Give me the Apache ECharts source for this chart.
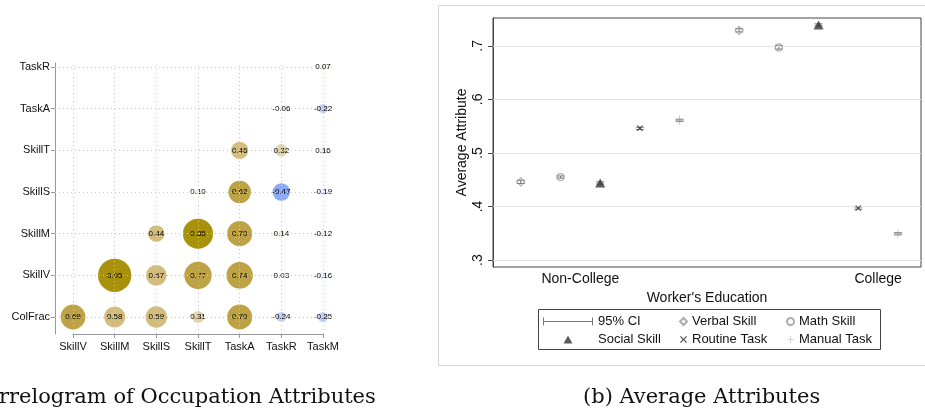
<!DOCTYPE html>
<html><head><meta charset="utf-8">
<script src="https://cdn.jsdelivr.net/npm/echarts@6/dist/echarts.min.js"></script>
<style>html,body{margin:0;padding:0;background:#fff}#c{width:925px;height:415px}</style>
</head><body><div id="c"></div>
<script>
// ---------- (a) Correlogram data ----------
const corrCols = ['SkillV','SkillM','SkillS','SkillT','TaskA','TaskR','TaskM'];
const corrRows = ['ColFrac','SkillV','SkillM','SkillS','SkillT','TaskA','TaskR']; // bottom -> top
const rowColFrac = [0.69, 0.58, 0.59, 0.31, 0.70, -0.24, -0.25];
const rowSkillV  = [null, 0.95, 0.57, 0.77, 0.74, 0.03, -0.16];
const rowSkillM  = [null, null, 0.44, 0.85, 0.70, 0.14, -0.12];
const rowSkillS  = [null, null, null, 0.10, 0.62, -0.47, -0.19];
const rowSkillT  = [null, null, null, null, 0.46, 0.32, 0.16];
const rowTaskA   = [null, null, null, null, null, -0.06, -0.22];
const rowTaskR   = [null, null, null, null, null, null, 0.07];

// ---------- (b) Average attributes data ----------
const eduLabels = ['Non-College', 'College'];
const eduLabelPos = [2.5, 10];
const groupStart = [1, 6.5];          // x of first series within each group
const verbal   = [0.446, 0.729];
const math     = [0.455, 0.697];
const social   = [0.444, 0.739];
const routine  = [0.546, 0.397];
const manual   = [0.561, 0.349];
const ciHalf   = [[0.003, 0.003], [0.002, 0.003], [0.002, 0.002], [0.002, 0.002], [0.002, 0.002]];
const yTicks = [0.3, 0.4, 0.5, 0.6, 0.7];
const yTickLabels = ['.3', '.4', '.5', '.6', '.7'];

// ---------- build ----------
const allRows = [rowColFrac, rowSkillV, rowSkillM, rowSkillS, rowSkillT, rowTaskA, rowTaskR];
const cells = [];
allRows.forEach((r, j) => r.forEach((v, i) => { if (v !== null) cells.push([i, j, v]); }));

function bubbleColor(v) {
  const a = Math.abs(v);
  if (v >= 0) {
    if (a >= 0.8) return '#a8920c';
    if (a >= 0.6) return '#bea346';
    if (a >= 0.4) return '#d2bd7e';
    if (a >= 0.2) return '#e3d6ad';
    return '#f5f0e2';
  }
  if (a >= 0.4) return '#8eaaf6';
  if (a >= 0.2) return '#c3cff6';
  return '#eef1fc';
}

const seriesVals = [verbal, math, social, routine, manual];
function pts(arr, k) { return arr.map((v, g) => [groupStart[g] + k, v]); }
const ciData = [];
seriesVals.forEach((arr, k) => arr.forEach((v, g) => ciData.push([groupStart[g] + k, v - ciHalf[k][g], v + ciHalf[k][g]])));

const XPATH = 'path://M0,1.2L1.2,0L5,3.8L8.8,0L10,1.2L6.2,5L10,8.8L8.8,10L5,6.2L1.2,10L0,8.8L3.8,5Z';
const PLUSPATH = 'path://M4.5,0H5.5V4.5H10V5.5H5.5V10H4.5V5.5H0V4.5H4.5Z';
const TRIPATH = 'path://M5,0L10,9L0,9Z';
const CIPATH = 'path://M0,0h1v8h-1zM0,3.5h50v1h-50zM49,0h1v8h-1z';

const FONT = 'Liberation Sans';
const SERIF = '21px "DejaVu Serif"';
const chart = echarts.init(document.getElementById('c'), null, {renderer: 'canvas'});

const gridStep = 250 / 6;
const legendText = {fontSize: 13, color: '#111', fontFamily: FONT};
const option = {
  backgroundColor: '#fff',
  animation: false,
  textStyle: {fontFamily: FONT},
  grid: [
    {left: 55, top: 63, width: 280, height: 271},
    {left: 73, top: 67, width: 250, height: 250},
    {left: 493, top: 18, width: 428, height: 249, show: true, borderColor: '#444', borderWidth: 1, backgroundColor: '#fff'}
  ],
  xAxis: [
    {gridIndex: 0, type: 'value', min: -18 / gridStep, max: 6 + 12 / gridStep, show: false},
    {gridIndex: 1, type: 'value', min: 0, max: 6, interval: 1, offset: 17,
     axisLine: {onZero: false, lineStyle: {color: '#999', width: 1}},
     axisTick: {length: 4, lineStyle: {color: '#999'}},
     axisLabel: {margin: 7, fontSize: 11, color: '#111', fontFamily: FONT, formatter: v => corrCols[v] || ''},
     splitLine: {show: false}},
    {gridIndex: 2, type: 'value', min: 0.3, max: 11.08,
     axisLine: {show: false, onZero: false}, axisTick: {show: false}, splitLine: {show: false},
     axisLabel: {customValues: eduLabelPos, margin: 5, fontSize: 14, color: '#111', fontFamily: FONT,
                 formatter: v => eduLabels[eduLabelPos.indexOf(v)] || ''},
     name: "Worker's Education", nameLocation: 'middle', nameGap: 20,
     nameTextStyle: {fontSize: 14, color: '#111', fontFamily: FONT}}
  ],
  yAxis: [
    {gridIndex: 0, type: 'value', min: -17 / gridStep, max: 6 + 4 / gridStep,
     axisLine: {show: true, onZero: false, lineStyle: {color: '#999', width: 1}},
     axisTick: {show: false}, axisLabel: {show: false}, splitLine: {show: false}},
    {gridIndex: 1, type: 'value', min: 0, max: 6, interval: 1, offset: 18,
     axisLine: {show: false, onZero: false},
     axisTick: {show: true, length: 4, lineStyle: {color: '#999'}},
     axisLabel: {margin: 5, fontSize: 11, color: '#111', fontFamily: FONT, formatter: v => corrRows[v] || ''},
     splitLine: {show: false}},
    {gridIndex: 2, type: 'value', min: 0.287, max: 0.752,
     axisLine: {show: true, onZero: false, lineStyle: {color: '#444', width: 1}},
     axisTick: {show: true, customValues: yTicks, length: 5, lineStyle: {color: '#444'}},
     axisLabel: {customValues: yTicks, rotate: 90, margin: 8, fontSize: 14, color: '#111', fontFamily: FONT,
                 formatter: v => yTickLabels[yTicks.findIndex(t => Math.abs(t - v) < 1e-6)] || ''},
     splitLine: {show: false},
     name: 'Average Attribute', nameLocation: 'middle', nameGap: 24,
     nameTextStyle: {fontSize: 14, color: '#111', fontFamily: FONT}}
  ],
  legend: [
    {left: 543, top: 315, z: 10, padding: 0, orient: 'vertical', itemWidth: 50, itemHeight: 8, itemGap: 5, selectedMode: false,
     textStyle: legendText,
     data: [{name: '95% CI', icon: CIPATH, itemStyle: {color: '#777', borderWidth: 0}},
            {name: 'Social Skill', icon: TRIPATH, itemStyle: {color: '#333', borderWidth: 0}}]},
    {left: 679, top: 315, z: 10, padding: 0, orient: 'vertical', itemWidth: 7, itemHeight: 7, itemGap: 5, selectedMode: false,
     textStyle: legendText,
     data: ['Verbal Skill', {name: 'Routine Task', icon: XPATH, itemStyle: {color: '#222', borderWidth: 0}}]},
    {left: 786, top: 315, z: 10, padding: 0, orient: 'vertical', itemWidth: 7, itemHeight: 7, itemGap: 5, selectedMode: false,
     textStyle: legendText,
     data: ['Math Skill', {name: 'Manual Task', icon: PLUSPATH, itemStyle: {color: '#aaa', borderWidth: 0}}]}
  ],
  graphic: [
    {type: 'rect', z: -10, silent: true, shape: {x: 438.5, y: 5.5, width: 500, height: 360},
     style: {fill: '#fff', stroke: '#d6d6d6', lineWidth: 1}},
    {type: 'rect', z: 1, silent: true, shape: {x: 538.5, y: 309.5, width: 342, height: 40},
     style: {fill: 'rgba(255,255,255,0)', stroke: '#444', lineWidth: 1}},
    {type: 'text', z: 10, x: -1, y: 398, style: {text: 'rrelogram of Occupation Attributes', font: SERIF, fill: '#111', align: 'left', verticalAlign: 'middle'}},
    {type: 'text', z: 10, x: 583, y: 398, style: {text: '(b) Average Attributes', font: SERIF, fill: '#111', align: 'left', verticalAlign: 'middle'}}
  ],
  series: [
    {type: 'line', xAxisIndex: 0, yAxisIndex: 0, data: [], silent: true, z: 1,
     markLine: {silent: true, symbol: 'none', label: {show: false}, animation: false,
                lineStyle: {type: [1, 3], color: '#c8c8c8', width: 1},
                data: corrCols.map((c, i) => ({xAxis: i})).concat(corrRows.map((r, j) => ({yAxis: j})))}},
    {type: 'custom', xAxisIndex: 1, yAxisIndex: 1, z: 3, data: cells, clip: false,
     renderItem: (params, api) => {
       const v = api.value(2);
       const p = api.coord([api.value(0), api.value(1)]);
       const r = 1 + 16.5 * Math.abs(v);
       return {type: 'group', children: [
         {type: 'circle', shape: {cx: p[0], cy: p[1], r: r}, style: {fill: bubbleColor(v)}},
         {type: 'text', x: p[0], y: p[1], z2: 10,
          style: {text: v.toFixed(2), fill: '#000', font: '8px "Liberation Sans"', align: 'center', verticalAlign: 'middle'}}
       ]};
     }},
    {type: 'line', xAxisIndex: 2, yAxisIndex: 2, data: [], silent: true, z: 1,
     markLine: {silent: true, symbol: 'none', label: {show: false}, animation: false,
                lineStyle: {type: 'solid', color: '#e4e4e4', width: 1},
                data: yTicks.map(t => ({yAxis: t}))}},
    {type: 'custom', name: '95% CI', xAxisIndex: 2, yAxisIndex: 2, z: 4, data: ciData,
     renderItem: (params, api) => {
       const x = api.value(0);
       const lo = api.coord([x, api.value(1)]);
       const hi = api.coord([x, api.value(2)]);
       const w = 4, st = {stroke: '#777', lineWidth: 1};
       return {type: 'group', children: [
         {type: 'line', shape: {x1: lo[0], y1: lo[1], x2: hi[0], y2: hi[1]}, style: st},
         {type: 'line', shape: {x1: lo[0] - w, y1: lo[1], x2: lo[0] + w, y2: lo[1]}, style: st},
         {type: 'line', shape: {x1: hi[0] - w, y1: hi[1], x2: hi[0] + w, y2: hi[1]}, style: st}
       ]};
     }},
    {type: 'scatter', name: 'Verbal Skill', xAxisIndex: 2, yAxisIndex: 2, z: 5, data: pts(verbal, 0),
     symbol: 'diamond', symbolSize: 8, itemStyle: {color: 'rgba(255,255,255,0)', borderColor: '#999', borderWidth: 1.2}},
    {type: 'scatter', name: 'Math Skill', xAxisIndex: 2, yAxisIndex: 2, z: 5, data: pts(math, 1),
     symbol: 'circle', symbolSize: 7, itemStyle: {color: 'rgba(255,255,255,0)', borderColor: '#999', borderWidth: 1.2}},
    {type: 'scatter', name: 'Social Skill', xAxisIndex: 2, yAxisIndex: 2, z: 5, data: pts(social, 2),
     symbol: TRIPATH, symbolSize: [10, 9], itemStyle: {color: '#333'}},
    {type: 'scatter', name: 'Routine Task', xAxisIndex: 2, yAxisIndex: 2, z: 5, data: pts(routine, 3),
     symbol: XPATH, symbolSize: 6, itemStyle: {color: '#222'}},
    {type: 'scatter', name: 'Manual Task', xAxisIndex: 2, yAxisIndex: 2, z: 5, data: pts(manual, 4),
     symbol: PLUSPATH, symbolSize: 9, itemStyle: {color: '#aaa'}}
  ]
};
chart.setOption(option);
</script>
</body></html>
